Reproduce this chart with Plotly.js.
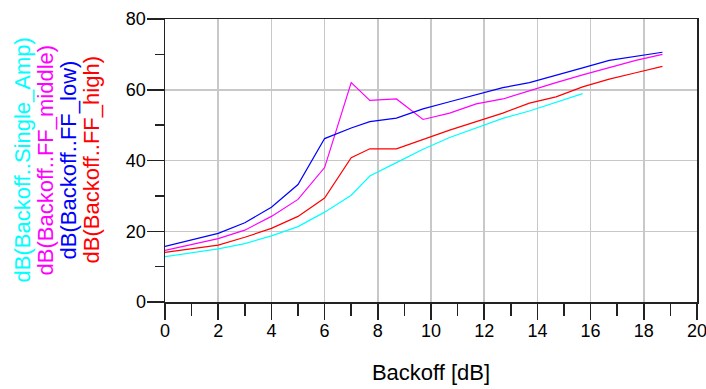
<!DOCTYPE html>
<html>
<head>
<meta charset="utf-8">
<script src="https://cdn.plot.ly/plotly-3.0.1.min.js"></script>
<style>html,body{margin:0;padding:0;background:#fff;}#chart{width:706px;height:389px;}</style>
</head>
<body>
<div id="chart"></div>
<script>
// Backoff [dB] sample points
const backoff = [0, 2, 3, 4, 5, 6, 7, 7.7, 8.7, 9.7, 10.7, 11.7, 12.7, 13.7, 14.7, 15.7, 16.7, 17.7, 18.7];
const backoffSingle = [0, 2, 3, 4, 5, 6, 7, 7.7, 8.7, 9.7, 10.7, 11.7, 12.7, 13.7, 14.7, 15.7];

const singleAmp = [12.8, 15.0, 16.5, 18.7, 21.3, 25.4, 30.2, 35.6, 39.4, 43.2, 46.5, 49.2, 51.9, 54.0, 56.4, 58.9];
const ffMiddle  = [14.6, 17.9, 20.3, 24.2, 29.0, 38.0, 62.0, 57.0, 57.4, 51.6, 53.4, 56.0, 57.4, 59.8, 62.0, 64.2, 66.3, 68.3, 70.0];
const ffLow     = [15.7, 19.4, 22.4, 26.8, 33.2, 46.2, 49.2, 51.0, 52.0, 54.6, 56.6, 58.6, 60.6, 62.0, 64.0, 66.2, 68.3, 69.4, 70.6];
const ffHigh    = [14.0, 16.1, 18.3, 20.8, 24.2, 29.4, 40.8, 43.3, 43.3, 46.0, 48.6, 51.0, 53.4, 56.2, 58.0, 60.8, 63.0, 64.8, 66.6];

const seriesNames = ["dB(Backoff..Single_Amp)", "dB(Backoff..FF_middle)", "dB(Backoff..FF_low)", "dB(Backoff..FF_high)"];
const seriesColors = ["#00ffff", "#ff00ff", "#0000ff", "#ff0000"];

const xTickVals = [0, 2, 4, 6, 8, 10, 12, 14, 16, 18, 20];
const yTickVals = [0, 20, 40, 60, 80];

const FONT = "Liberation Sans, Arial, sans-serif";

const traces = [
  {x: backoffSingle, y: singleAmp, name: seriesNames[0], color: seriesColors[0]},
  {x: backoff, y: ffMiddle, name: seriesNames[1], color: seriesColors[1]},
  {x: backoff, y: ffLow, name: seriesNames[2], color: seriesColors[2]},
  {x: backoff, y: ffHigh, name: seriesNames[3], color: seriesColors[3]}
].map(s => ({
  type: "scatter", mode: "lines", x: s.x, y: s.y, name: s.name,
  line: {color: s.color, width: 1.2}, hoverinfo: "skip"
}));

const labelShift = [-143, -120, -97, -74];
const annotations = seriesNames.map((n, i) => ({
  text: n, xref: "paper", yref: "paper", x: 0, y: 0.5,
  xshift: labelShift[i], xanchor: "center", yanchor: "middle",
  textangle: -90, showarrow: false,
  font: {family: FONT, size: 22, color: seriesColors[i]}
}));

const layout = {
  width: 706, height: 389,
  margin: {l: 165, r: 9, t: 19, b: 87},
  paper_bgcolor: "#ffffff", plot_bgcolor: "#ffffff",
  showlegend: false,
  font: {family: FONT, size: 18, color: "#000"},
  xaxis: {
    range: [0, 20], tickvals: xTickVals, ticks: "outside", ticklen: 16, tickwidth: 1.5, tickcolor: "#222",
    showgrid: true, gridcolor: "#c8c8c8", gridwidth: 1.5,
    showline: true, linecolor: "#222", linewidth: 1.5, mirror: true, zeroline: false,
    minor: {dtick: 1, ticks: "outside", ticklen: 12, tickwidth: 1.5, tickcolor: "#222", showgrid: false},
    tickfont: {family: FONT, size: 18, color: "#000"},
    ticklabeloverflow: "allow", ticklabelstandoff: -4,
    title: {text: "Backoff [dB]", font: {family: FONT, size: 22, color: "#000"}, standoff: 24},
    automargin: false
  },
  yaxis: {
    range: [0, 80], tickvals: yTickVals, ticks: "outside", ticklen: 17, tickwidth: 1.5, tickcolor: "#222",
    showgrid: true, gridcolor: "#c8c8c8", gridwidth: 1.5,
    showline: true, linecolor: "#222", linewidth: 1.5, mirror: true, zeroline: false,
    minor: {dtick: 10, ticks: "outside", ticklen: 9, tickwidth: 1.5, tickcolor: "#222", showgrid: false},
    tickfont: {family: FONT, size: 18, color: "#000"},
    ticklabelstandoff: -3,
    automargin: false
  },
  annotations: annotations
};

Plotly.newPlot("chart", traces, layout, {staticPlot: true, displayModeBar: false});
</script>
</body>
</html>
